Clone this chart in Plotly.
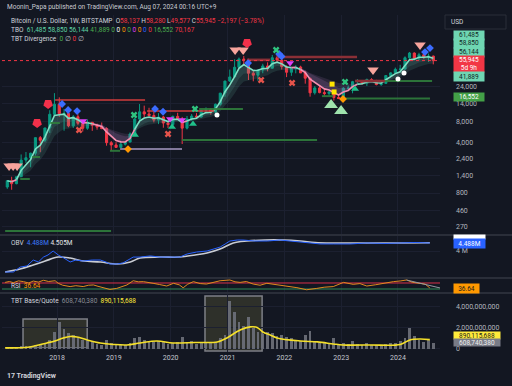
import numpy as np
import pandas as pd
import plotly.graph_objects as go

FONT = "Roboto, 'Noto Sans', sans-serif"
BG = "#131722"
GRID = "#1c2030"
TXT = "#b2b5be"
UP = "#089981"
DN = "#f23645"

# ---------------- monthly BTC/USD (Bitstamp) Feb 2017 .. Aug 2024 ----------------
month_start = pd.date_range("2017-02-01", "2024-08-01", freq="MS")
opens = [970, 1190, 1080, 1350, 2300, 2480, 2870, 4730, 4340, 6450, 10000,
         13800, 10200, 10300, 6900, 9240, 7490, 6390, 7730, 7030, 6630, 6320, 4020,
         3740, 3460, 3830, 4100, 5320, 8580, 10820, 10080, 9600, 8300, 9150, 7550,
         7200, 9350, 8540, 6410, 8630, 9450, 9140, 11350, 11650, 10780, 13800, 19700,
         28990, 33140, 45200, 58800, 57700, 37300, 35040, 41460, 47100, 43800, 61300, 56900,
         46200, 38480, 43160, 45500, 37700, 31800, 19900, 23300, 20050, 19420, 20490, 17160,
         16540, 23120, 23140, 28470, 29250, 27200, 30480, 29230, 25940, 26970, 34650, 37720,
         42280, 42580, 61180, 71300, 60650, 67500, 62700, 64600]
highs = [1200, 1350, 1350, 2760, 2980, 2920, 4740, 4980, 6470, 11400, 19700,
         17200, 11800, 11700, 9750, 10000, 7780, 8500, 7760, 7410, 7680, 6590, 4250,
         4080, 4200, 4120, 5600, 9000, 13880, 13200, 12320, 10950, 10370, 9500, 7750,
         9580, 10500, 9190, 9470, 10080, 10380, 11450, 12480, 12070, 14100, 19870, 29300,
         41950, 58350, 61790, 64900, 59500, 41300, 42300, 50500, 52900, 67000, 69000, 59100,
         47900, 45800, 48200, 47400, 40000, 32400, 24650, 25200, 22800, 21100, 21450, 18400,
         23950, 25250, 29200, 31000, 29800, 31400, 31800, 30200, 27500, 35200, 38400, 44700,
         48900, 64000, 73800, 72700, 71900, 72000, 70000, 65600]
lows = [915, 890, 1060, 1350, 2100, 1830, 2670, 2970, 4110, 5500, 9500,
        9200, 5900, 6600, 6430, 7050, 5750, 6080, 5880, 6100, 6200, 3650, 3120,
        3400, 3390, 3670, 4080, 5300, 7500, 9100, 9400, 7710, 7300, 6500, 6430,
        6870, 8450, 3850, 6150, 8120, 8900, 8990, 10600, 9870, 10400, 13200, 17600,
        28130, 32400, 45000, 47000, 30000, 28800, 29300, 37300, 39600, 43300, 53300, 42000,
        32950, 34300, 37200, 37600, 26700, 17600, 18800, 19600, 18150, 18200, 15500, 16300,
        16500, 21400, 19600, 26900, 25800, 24800, 28900, 25300, 24900, 26600, 34100, 37600,
        38500, 41900, 59200, 56500, 56600, 58500, 53500, 49577]
closes = [1190, 1080, 1350, 2300, 2480, 2870, 4730, 4340, 6450, 10000, 13800,
          10200, 10300, 6900, 9240, 7490, 6390, 7730, 7030, 6630, 6320, 4020, 3740,
          3460, 3830, 4100, 5320, 8580, 10820, 10080, 9600, 8300, 9150, 7550, 7200,
          9350, 8540, 6410, 8630, 9450, 9140, 11350, 11650, 10780, 13800, 19700, 28990,
          33140, 45200, 58800, 57700, 37300, 35040, 41460, 47100, 43800, 61300, 56900, 46200,
          38480, 43160, 45500, 37700, 31800, 19900, 23300, 20050, 19420, 20490, 17160, 16540,
          23120, 23140, 28470, 29250, 27200, 30480, 29230, 25940, 26970, 34650, 37720, 42280,
          42580, 61180, 71300, 60650, 67500, 62700, 64600, 55945]
volumes_bn = [0.08, 0.12, 0.10, 0.25, 0.30, 0.25, 0.40, 0.50, 0.50, 0.90, 1.60,
              2.60, 1.90, 1.50, 1.30, 1.00, 0.90, 0.80, 0.70, 0.50, 0.40, 0.90, 0.60,
              0.40, 0.40, 0.35, 0.60, 1.00, 1.10, 0.90, 0.70, 0.70, 0.80, 0.70, 0.50,
              0.60, 0.70, 1.10, 0.70, 0.80, 0.50, 0.60, 0.70, 0.60, 0.70, 1.00, 1.30,
              4.60, 3.50, 2.60, 2.20, 3.00, 2.00, 1.60, 1.40, 1.60, 1.50, 1.20, 1.30,
              1.10, 1.00, 0.90, 0.80, 1.30, 1.70, 0.80, 0.60, 0.70, 0.50, 1.00, 0.40,
              0.60, 0.50, 0.80, 0.50, 0.40, 0.60, 0.40, 0.40, 0.30, 0.50, 0.60, 0.60,
              0.80, 1.00, 2.00, 1.20, 0.90, 0.70, 0.90, 0.60]
last_price = 55945

# ---------------- levels (decimal years, price) ----------------
res_t0 = [2017.965, 2019.584, 2021.343, 2021.871, 2023.244]
res_t1 = [2019.549, 2020.763, 2021.748, 2023.279, 2023.770]
res_p = [15800, 11100, 57300, 62800, 29100]
sup_t0 = [2017.085, 2017.350, 2017.560, 2017.880, 2018.930, 2020.200, 2020.500, 2022.660, 2023.032, 2023.770]
sup_t1 = [2018.950, 2017.520, 2017.700, 2018.050, 2019.110, 2022.575, 2021.270, 2022.860, 2024.563, 2024.600]
sup_p = [237, 1256, 2540, 7560, 3100, 4380, 11860, 17900, 16552, 29100]
lav_t0, lav_t1, lav_p = [2019.110], [2020.200], [3280]

# ---------------- signal markers (decimal years, price) ----------------
salmon_t = [2017.155, 2017.226, 2017.296, 2021.132, 2021.273, 2023.560, 2024.388]
salmon_p = [1900, 1900, 1900, 78600, 78600, 41400, 92300]
flag_t = [2017.648, 2017.842, 2021.343]
flag_p = [7570, 13900, 98400]
blue_t = [2018.088, 2018.194, 2018.352, 2019.724, 2019.865, 2021.361, 2021.906, 2021.950, 2024.475, 2024.563]
blue_p = [13900, 11480, 11100, 11860, 10850, 51700, 69100, 64000, 73500, 83700]
gx_t = [2019.355, 2020.428, 2021.854, 2023.068]
gx_p = [9770, 11860, 78600, 28200]
rx_t = [2018.387, 2019.953, 2021.590, 2022.135]
rx_p = [6040, 5310, 30000, 27300]
mag_t = [2018.458, 2019.988, 2020.200, 2022.100]
mag_p = [8060, 8600, 8300, 51700]
gtri_t = [2019.372, 2020.024, 2020.393, 2023.244]
gtri_p = [5140, 6650, 7320, 22500]
big_t = [2022.821, 2022.997]
big_p = [13460, 11100]
yel_t = [2022.839, 2022.874]
yel_p = [26300, 20470]
org_t = [2019.249, 2023.032]
org_p = [3280, 16330]
wht_t = [2020.815, 2024.000, 2024.106]
wht_p = [9770, 31000, 37600]

# ---------------- OBV (millions) ----------------
obv_t = [2017.085, 2017.23, 2017.35, 2017.47, 2017.58, 2017.67, 2017.76, 2017.84, 2017.93, 2018.02,
         2018.12, 2018.23, 2018.33, 2018.46, 2018.62, 2018.76, 2018.86, 2018.93, 2019.06, 2019.16,
         2019.25, 2019.34, 2019.46, 2019.64, 2019.81, 2019.94, 2020.16, 2020.29, 2020.46, 2020.64,
         2020.78, 2020.87, 2020.96, 2021.04, 2021.17, 2021.27, 2021.48, 2021.70, 2021.92, 2022.10,
         2022.28, 2022.40, 2022.63, 2022.86, 2023.16, 2023.45, 2023.77, 2024.04, 2024.30, 2024.56]
obv_v = [2.72, 2.72, 3.02, 3.09, 3.45, 3.33, 3.63, 3.76, 4.00, 3.76,
         3.57, 3.33, 3.45, 3.39, 3.45, 3.45, 3.33, 3.21, 3.21, 3.27,
         3.45, 3.63, 3.63, 3.70, 3.63, 3.63, 3.63, 3.82, 3.94, 4.00,
         4.12, 4.24, 4.43, 4.61, 4.67, 4.67, 4.61, 4.61, 4.67, 4.61,
         4.55, 4.49, 4.43, 4.43, 4.43, 4.49, 4.46, 4.49, 4.52, 4.488]
obvs_t = [2017.085, 2017.35, 2017.58, 2017.79, 2018.02, 2018.23, 2018.46, 2018.76, 2019.06, 2019.29,
          2019.46, 2019.81, 2020.16, 2020.43, 2020.64, 2020.87, 2021.10, 2021.34, 2021.66, 2021.98,
          2022.28, 2022.54, 2022.86, 2023.45, 2024.04, 2024.56]
obvs_v = [2.72, 2.90, 3.15, 3.39, 3.63, 3.57, 3.39, 3.33, 3.21, 3.33,
          3.57, 3.63, 3.63, 3.76, 3.88, 4.12, 4.49, 4.61, 4.67, 4.67,
          4.61, 4.52, 4.49, 4.49, 4.49, 4.505]

# ---------------- RSI ----------------
rsi_t = [2017.085, 2017.16, 2017.23, 2017.32, 2017.41, 2017.50, 2017.58, 2017.67, 2017.76, 2017.85,
         2017.965, 2018.02, 2018.10, 2018.23, 2018.33, 2018.46, 2018.55, 2018.64, 2018.72, 2018.81,
         2018.93, 2019.05, 2019.14, 2019.23, 2019.34, 2019.43, 2019.52, 2019.60, 2019.69, 2019.80,
         2019.93, 2020.05, 2020.15, 2020.22, 2020.30, 2020.40, 2020.52, 2020.63, 2020.75, 2020.87,
         2021.04, 2021.13, 2021.22, 2021.33, 2021.45, 2021.57, 2021.69, 2021.80, 2021.98, 2022.10,
         2022.22, 2022.39, 2022.48, 2022.57, 2022.70, 2022.86, 2023.04, 2023.12, 2023.21, 2023.33,
         2023.45, 2023.60, 2023.74, 2023.83, 2023.92, 2024.05, 2024.15, 2024.25, 2024.39, 2024.48,
         2024.56]
rsi_v = [74, 80, 72, 84, 79, 70, 83, 76, 88, 80,
         85, 68, 55, 46, 52, 46, 55, 57, 48, 40,
         27, 34, 45, 57, 85, 78, 79, 72, 68, 60,
         50, 68, 58, 38, 62, 79, 66, 63, 72, 85,
         90, 78, 74, 80, 63, 55, 68, 62, 57, 50,
         39, 25, 32, 34, 42, 46, 74, 68, 61, 66,
         50, 58, 68, 74, 79, 84, 90, 75, 68, 62,
         37]
rsi_trend_t = [2024.15, 2024.739]
rsi_trend_v = [90, 37]

# ---------------- volume MA (billions) and boxes ----------------
vma_t = [2017.085, 2017.52, 2017.82, 2017.96, 2018.11, 2018.23, 2018.35, 2018.53, 2018.76, 2018.99,
         2019.23, 2019.46, 2019.76, 2020.04, 2020.43, 2020.82, 2020.99, 2021.22, 2021.40, 2021.52,
         2021.62, 2021.75, 2021.87, 2022.28, 2022.58, 2022.86, 2023.03, 2023.51, 2024.04, 2024.21,
         2024.39, 2024.56]
vma_v = [0.10, 0.19, 0.57, 0.76, 1.05, 1.19, 1.14, 0.86, 0.57, 0.43,
         0.38, 0.57, 0.76, 0.57, 0.62, 0.67, 1.05, 1.81, 2.10, 2.05,
         1.62, 1.33, 1.05, 0.76, 0.67, 0.48, 0.38, 0.38, 0.43, 0.86,
         0.95, 0.89]
box_t0 = [2017.40, 2020.604]
box_t1 = [2018.53, 2021.607]
box_top = [2.86, 5.05]
box_bot = [0.10, -0.19]

price_ticks = [270, 460, 800, 1400, 2400, 4000, 8000, 14000, 24000]
years = [2018, 2019, 2020, 2021, 2022, 2023, 2024]


def yf(v):
    y = int(v)
    return pd.Timestamp(f"{y}-01-01") + pd.Timedelta(days=(v - y) * 365.25)


def yfl(lst):
    return [yf(v) for v in lst]


X0, X1 = "2017-01-12", "2024-09-27"
candle_x = list(month_start + pd.Timedelta(days=14))
n = len(closes)

fig = go.Figure()

# ---------------- TBO cloud (EMAs of closes) ----------------
cs = pd.Series(closes, dtype=float)
fast = cs.ewm(span=4, adjust=False).mean().values
slow = cs.ewm(span=9, adjust=False).mean().values
slower = cs.ewm(span=15, adjust=False).mean().values
upflag = fast >= slow
runs = []
s = 0
for i in range(1, n):
    if upflag[i] != upflag[s]:
        runs.append((s, i, upflag[s]))
        s = i
runs.append((s, n - 1, upflag[s]))

for s, e, u in runs:
    xs = candle_x[s:e + 1]
    c2 = "rgba(90,160,145,0.18)" if u else "rgba(150,110,165,0.18)"
    c1 = "rgba(90,160,145,0.32)" if u else "rgba(160,115,175,0.34)"
    fig.add_trace(go.Scatter(x=xs, y=slower[s:e + 1], mode="lines", line=dict(width=0), showlegend=False, hoverinfo="skip"))
    fig.add_trace(go.Scatter(x=xs, y=slow[s:e + 1], mode="lines", line=dict(width=0), fill="tonexty", fillcolor=c2, showlegend=False, hoverinfo="skip"))
    fig.add_trace(go.Scatter(x=xs, y=slow[s:e + 1], mode="lines", line=dict(width=0), showlegend=False, hoverinfo="skip"))
    fig.add_trace(go.Scatter(x=xs, y=fast[s:e + 1], mode="lines", line=dict(width=0), fill="tonexty", fillcolor=c1, showlegend=False, hoverinfo="skip"))

# ---------------- candles ----------------
fig.add_trace(go.Candlestick(x=candle_x, open=opens, high=highs, low=lows, close=closes,
                             increasing=dict(line=dict(color=UP, width=1), fillcolor=UP),
                             decreasing=dict(line=dict(color=DN, width=1), fillcolor=DN),
                             whiskerwidth=0, showlegend=False, hoverinfo="skip"))

for s, e, u in runs:
    fig.add_trace(go.Scatter(x=candle_x[s:e + 1], y=fast[s:e + 1], mode="lines",
                             line=dict(color="#7fe0c4" if u else "#f48fb1", width=1.6),
                             showlegend=False, hoverinfo="skip"))


# ---------------- horizontal levels ----------------
def seg_trace(t0, t1, p, color, width, dash="solid", opacity=1.0):
    xs, ys = [], []
    for a, b, v in zip(t0, t1, p):
        xs += [yf(a), yf(b), None]
        ys += [v, v, None]
    fig.add_trace(go.Scatter(x=xs, y=ys, mode="lines", line=dict(color=color, width=width, dash=dash),
                             opacity=opacity, showlegend=False, hoverinfo="skip"))


seg_trace(res_t0[:2], res_t1[:2], res_p[:2], "#d23c3c", 1.4)
seg_trace(res_t0[2:], res_t1[2:], res_p[2:], "#8a2f36", 2.6)
seg_trace(sup_t0, sup_t1, sup_p, "#2f7d3c", 2.0, opacity=0.9)
seg_trace(lav_t0, lav_t1, lav_p, "#a99bc4", 1.4)
fig.add_trace(go.Scatter(x=[X0, X1], y=[last_price, last_price], mode="lines",
                         line=dict(color="#f23645", width=1, dash="dot"), showlegend=False, hoverinfo="skip"))


def mk(t, p, symbol, color, size, angle=0):
    fig.add_trace(go.Scatter(x=yfl(t), y=p, mode="markers",
                             marker=dict(symbol=symbol, color=color, size=size, angle=angle, line=dict(width=0)),
                             showlegend=False, hoverinfo="skip"))


mk(salmon_t, salmon_p, "triangle-down", "#f7a49c", 10)
mk(flag_t, flag_p, "pentagon", "#f2304a", 10, angle=180)
mk(blue_t, blue_p, "diamond", "#3b6cff", 6)
mk(gx_t, gx_p, "x", "#2fc47f", 6)
mk(rx_t, rx_p, "x", "#e5534b", 6)
mk(mag_t, mag_p, "triangle-down", "#e040fb", 7)
mk(gtri_t, gtri_p, "triangle-up", "#1fc08a", 7)
mk(big_t, big_p, "triangle-up", "#9fe3ad", 12)
mk(yel_t, yel_p, "square", "#ffe500", 5)
mk(org_t, org_p, "diamond", "#ff9800", 6)
mk(wht_t, wht_p, "circle", "#ffffff", 5)

# ---------------- OBV ----------------
fig.add_trace(go.Scatter(x=yfl(obvs_t), y=obvs_v, mode="lines", line=dict(color="#c9ccd4", width=1.6, shape="spline"),
                         xaxis="x2", yaxis="y2", showlegend=False, hoverinfo="skip"))
fig.add_trace(go.Scatter(x=yfl(obv_t), y=obv_v, mode="lines", line=dict(color="#2962ff", width=1),
                         xaxis="x2", yaxis="y2", showlegend=False, hoverinfo="skip"))

# ---------------- RSI ----------------
fig.add_trace(go.Scatter(x=[X0, X1], y=[70, 70], mode="lines", line=dict(color="#d9304a", width=1),
                         xaxis="x3", yaxis="y3", showlegend=False, hoverinfo="skip"))
fig.add_trace(go.Scatter(x=[X0, X1], y=[30, 30], mode="lines", line=dict(color="#2e8b57", width=1),
                         xaxis="x3", yaxis="y3", showlegend=False, hoverinfo="skip"))
fig.add_trace(go.Scatter(x=yfl(rsi_t), y=rsi_v, mode="lines", line=dict(color="#e08a1e", width=1),
                         xaxis="x3", yaxis="y3", showlegend=False, hoverinfo="skip"))
fig.add_trace(go.Scatter(x=yfl(rsi_trend_t), y=rsi_trend_v, mode="lines", line=dict(color="#9598a1", width=1),
                         xaxis="x3", yaxis="y3", showlegend=False, hoverinfo="skip"))

# ---------------- Volume ----------------
shapes = []
for a, b, top, bot in zip(box_t0, box_t1, box_top, box_bot):
    shapes.append(dict(type="rect", xref="x4", yref="y4", x0=yf(a), x1=yf(b), y0=bot * 1e9, y1=top * 1e9,
                       fillcolor="rgba(70,70,50,0.55)", line=dict(color="#7d7f86", width=1.5), layer="below"))
fig.add_trace(go.Bar(x=candle_x, y=[v * 1e9 for v in volumes_bn], width=18 * 86400000,
                     marker=dict(color="#6e717b", line=dict(width=0)), opacity=0.9,
                     xaxis="x4", yaxis="y4", showlegend=False, hoverinfo="skip"))
fig.add_trace(go.Scatter(x=yfl(vma_t), y=[v * 1e9 for v in vma_v], mode="lines",
                         line=dict(color="#f5e02a", width=1.6, shape="spline"),
                         xaxis="x4", yaxis="y4", showlegend=False, hoverinfo="skip"))


# ---------------- layout helpers ----------------
def P(xpx, ypx):
    return (xpx - 2) / 438.0, (352 - ypx) / 337.0


anns = []


def txt(xpx, ypx, text, color="#d1d4dc", size=6.5, bg=None, w=None, h=None, anchor="left"):
    x, y = P(xpx, ypx)
    d = dict(x=x, y=y, xref="paper", yref="paper", text=text, showarrow=False, xanchor=anchor,
             yanchor="middle", font=dict(family=FONT, size=size, color=color))
    if bg:
        d.update(bgcolor=bg, borderpad=0)
    if w:
        d.update(width=w, align="center")
    if h:
        d.update(height=h)
    anns.append(d)


def sp(c, t):
    return f"<span style='color:{c}'>{t}</span>"


txt(5, 7, "Moonin_Papa published on TradingView.com, Aug 07, 2024 00:16 UTC+9", color="#c8cad1")
txt(9, 21, "Bitcoin / U.S. Dollar, 1W, BITSTAMP  O" + sp(DN, "58,137") + " H" + sp(DN, "58,280") +
    " L" + sp(DN, "49,577") + " C" + sp(DN, "55,945") + " " + sp(DN, "−2,197 (−3.78%)"))
zeros = ["#4caf50", "#ffffff", "#ff9800", "#4caf50", "#e040fb", "#ff9800", "#2962ff", "#f23645"]
txt(9, 30, "TBO  " + sp("#5fd3a4", "61,485") + " " + sp("#5fd3a4", "58,850") + " " + sp("#5fd3a4", "56,144") +
    " " + sp("#4caf50", "41,889") + " " + " ".join(sp(c, "0") for c in zeros) + " " + sp("#4caf50", "16,552") +
    " " + sp(DN, "70,167"))
txt(9, 39, "TBT Divergence  " + sp("#4caf50", "0") + " " + sp(TXT, "∅") + " " + sp(DN, "0") + " " + sp(TXT, "∅"))
txt(9, 243, "OBV  " + sp("#3d7bff", "4.488M") + " " + sp("#e6e7ea", "4.505M"))
txt(9, 286, "RSI  " + sp("#ff9800", "36.64"))
txt(9, 301, "TBT Base/Quote  " + sp("#8b8e97", "608,740,380") + "  " + sp("#ffeb3b", "890,115,688"))
txt(5, 376, "<b>17 TradingView</b>", color="#d1d4dc", size=7)

# price-axis boxes
txt(449, 22, "USD", color="#d1d4dc", size=6.5)
txt(453, 35, "61,485", color="#10261f", bg="#6fd6b2", w=30, h=8.5)
txt(453, 43.5, "58,850", color="#10261f", bg="#6fd6b2", w=30, h=8.5)
txt(453, 52, "56,144", color="#10261f", bg="#6fd6b2", w=30, h=8.5)
txt(453, 64, "55,945<br>5d 9h", color="#ffffff", bg="#f23645", w=30, h=16)
txt(453, 76.5, "41,889", color="#10261f", bg="#6fd6b2", w=30, h=9)
txt(453, 97, "16,552", color="#ffffff", bg="#43a047", w=30, h=8)
txt(453, 237, " ", color="#ffffff", bg="#ffffff", w=31, h=4)
txt(453, 243.5, "4.488M", color="#ffffff", bg="#2962ff", w=31, h=9)
txt(453, 288, "36.64", color="#1b1b1b", bg="#ff9800", w=25, h=9)
txt(453, 335.6, "890,115,688", color="#1b1b1b", bg="#ffeb3b", w=46, h=7)
txt(453, 342.8, "608,740,380", color="#eeeeee", bg="#787b86", w=46, h=7)


# separators and USD box
def hline_px(ypx, color="#2a2e39", width=2):
    _, y = P(0, ypx)
    shapes.append(dict(type="line", xref="paper", yref="paper", x0=P(0, 0)[0], x1=P(512, 0)[0], y0=y, y1=y,
                       line=dict(color=color, width=width), layer="above"))


hline_px(235)
hline_px(278)
hline_px(293)
ux0, uy0 = P(445, 15)
ux1, uy1 = P(506, 29)
shapes.append(dict(type="rect", xref="paper", yref="paper", x0=ux0, x1=ux1, y0=uy1, y1=uy0,
                   fillcolor=BG, line=dict(color="#2a2e39", width=1), layer="below"))

year_vals = [pd.Timestamp(f"{y}-01-01") for y in years]
xcommon = dict(range=[X0, X1], showgrid=True, gridcolor=GRID, gridwidth=1, tickvals=year_vals,
               zeroline=False, showline=False, ticks="", rangeslider=dict(visible=False))
ycommon = dict(side="right", showline=False, zeroline=False, ticks="", ticklabelstandoff=15,
               tickfont=dict(family=FONT, size=7, color=TXT), gridcolor=GRID)

fig.update_layout(
    width=512, height=386, margin=dict(l=2, r=72, t=15, b=34),
    paper_bgcolor=BG, plot_bgcolor=BG, showlegend=False, bargap=0,
    font=dict(family=FONT, color=TXT),
    xaxis=dict(**xcommon, anchor="y", domain=[0, 1], showticklabels=False),
    xaxis2=dict(**xcommon, anchor="y2", matches="x", domain=[0, 1], showticklabels=False),
    xaxis3=dict(**xcommon, anchor="y3", matches="x", domain=[0, 1], showticklabels=False),
    xaxis4=dict(**xcommon, anchor="y4", matches="x", domain=[0, 1], showticklabels=True,
                ticktext=[str(y) for y in years], tickfont=dict(family=FONT, size=7, color="#c3c6ce")),
    yaxis=dict(**ycommon, domain=[(352 - 235) / 337, 1], type="log", range=[2.3187, 5.3828],
               tickvals=price_ticks, ticktext=[f"{v:,}" for v in price_ticks], showgrid=True),
    yaxis2=dict(**ycommon, domain=[(352 - 278) / 337, (352 - 235) / 337], range=[2.354, 4.976],
                tickvals=[4], ticktext=["4 M"], showgrid=True),
    yaxis3=dict(**ycommon, domain=[(352 - 293) / 337, (352 - 278) / 337], range=[3.3, 103.3],
                showticklabels=False, showgrid=False),
    yaxis4=dict(**ycommon, domain=[0, (352 - 293) / 337], range=[-0.29e9, 5.33e9],
                tickvals=[0, 2e9, 4e9], ticktext=["0", "2,000,000,000", "4,000,000,000"], showgrid=True),
    annotations=anns, shapes=shapes,
)

fig.write_html("out.html", config={"displayModeBar": False, "staticPlot": True},
               post_script="document.body.style.margin='0';document.body.style.padding='0';"
                           "document.body.style.background='#131722';document.body.style.overflow='hidden';")
